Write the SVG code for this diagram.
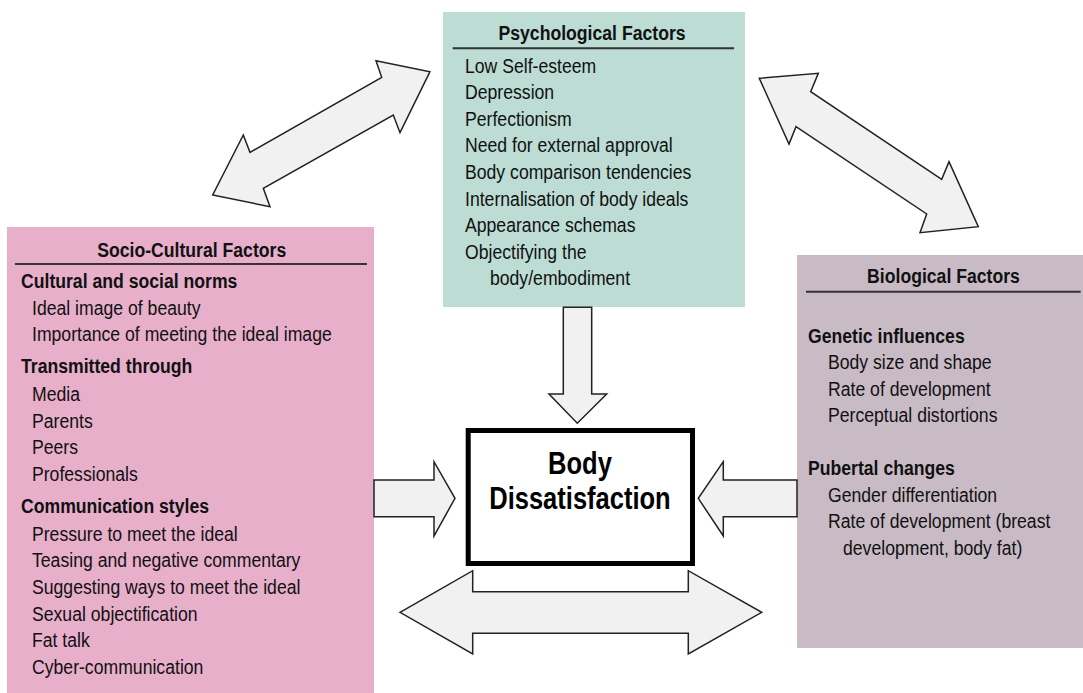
<svg xmlns="http://www.w3.org/2000/svg" width="1083" height="693" viewBox="0 0 1083 693">
<style>
.t{font-family:"Liberation Sans",Arial,Helvetica,sans-serif;font-size:21px;fill:#111}
.b{font-weight:bold}
.c{text-anchor:middle}
.rule{stroke:#333;stroke-width:2}
.arr{fill:#f1f1f1;stroke:#222;stroke-width:1.5;stroke-linejoin:miter}
</style>
<rect width="1083" height="693" fill="#fff"/>

<g id="psychological">
<rect x="443" y="12" width="302" height="295" fill="#bcdcd4"/>
<line class="rule" x1="452.7" y1="48.3" x2="734" y2="48.3"/>
<g transform="scale(0.84,1)">
<text class="t b c" x="704.8" y="40">Psychological Factors</text>
<text class="t" x="553.6" y="72.7">Low Self-esteem</text>
<text class="t" x="553.6" y="99.3">Depression</text>
<text class="t" x="553.6" y="125.9">Perfectionism</text>
<text class="t" x="553.6" y="152.5">Need for external approval</text>
<text class="t" x="553.6" y="179.1">Body comparison tendencies</text>
<text class="t" x="553.6" y="205.7">Internalisation of body ideals</text>
<text class="t" x="553.6" y="232.3">Appearance schemas</text>
<text class="t" x="553.6" y="258.9">Objectifying the</text>
<text class="t" x="583.3" y="285.5">body/embodiment</text>
</g>
</g>

<g id="socio-cultural">
<rect x="7" y="227" width="367" height="466" fill="#e8afcb"/>
<line class="rule" x1="15" y1="264" x2="367" y2="264"/>
<g transform="scale(0.84,1)">
<text class="t b c" x="228.2" y="257">Socio-Cultural Factors</text>
<text class="t b" x="25" y="288">Cultural and social norms</text>
<text class="t" x="38.1" y="315">Ideal image of beauty</text>
<text class="t" x="38.1" y="341">Importance of meeting the ideal image</text>
<text class="t b" x="25" y="373">Transmitted through</text>
<text class="t" x="38.1" y="401">Media</text>
<text class="t" x="38.1" y="427.7">Parents</text>
<text class="t" x="38.1" y="454.4">Peers</text>
<text class="t" x="38.1" y="481">Professionals</text>
<text class="t b" x="25" y="513">Communication styles</text>
<text class="t" x="38.1" y="540.8">Pressure to meet the ideal</text>
<text class="t" x="38.1" y="567.5">Teasing and negative commentary</text>
<text class="t" x="38.1" y="594.2">Suggesting ways to meet the ideal</text>
<text class="t" x="38.1" y="620.9">Sexual objectification</text>
<text class="t" x="38.1" y="647.5">Fat talk</text>
<text class="t" x="38.1" y="674.2">Cyber-communication</text>
</g>
</g>

<g id="biological">
<rect x="797" y="255" width="286" height="393" fill="#c9bbc5"/>
<line class="rule" x1="806" y1="291.7" x2="1080.7" y2="291.7"/>
<g transform="scale(0.84,1)">
<text class="t b c" x="1123.2" y="283.3">Biological Factors</text>
<text class="t b" x="961.9" y="342.7">Genetic influences</text>
<text class="t" x="985.7" y="369">Body size and shape</text>
<text class="t" x="985.7" y="395.7">Rate of development</text>
<text class="t" x="985.7" y="422.3">Perceptual distortions</text>
<text class="t b" x="961.9" y="475">Pubertal changes</text>
<text class="t" x="985.7" y="501.7">Gender differentiation</text>
<text class="t" x="985.7" y="528.3">Rate of development (breast</text>
<text class="t" x="1003.6" y="554.8">development, body fat)</text>
</g>
</g>

<g id="body-dissatisfaction">
<rect x="468.2" y="430.5" width="224.3" height="133" fill="#fff" stroke="#000" stroke-width="5"/>
<g transform="scale(0.81,1)">
<text class="t b c" x="716" y="474.3" style="font-size:31.5px;fill:#000">Body</text>
<text class="t b c" x="716" y="509.3" style="font-size:31.5px;fill:#000">Dissatisfaction</text>
</g>
</g>

<g id="connectors">
<polygon class="arr" points="430,71.7 400,132.7 393.3,115 263.3,188.3 270,206.7 212.7,195 243.3,135 250,152.3 381.7,77.3 376,60.7"/>
<polygon class="arr" points="759.3,78.3 818.3,73.3 810.7,91.7 941.7,179.3 949,161.7 978.3,226.7 920,232.7 926.7,214 796,126.7 789,144"/>
<polygon class="arr" points="563.3,307.3 591.7,307.3 591.7,394 606.7,394 577.3,423.3 549,394 563.3,394"/>
<polygon class="arr" points="374,480 434,480 434,461.7 455,498.3 434,536 434,516.7 374,516.7"/>
<polygon class="arr" points="797,480 723.3,480 723.3,461.7 698.3,498.3 723.3,536 723.3,516.7 797,516.7"/>
<polygon class="arr" points="400,612.3 472.7,570.7 472.7,591.7 688.3,591.7 688.3,570.7 761.7,612.3 688.3,654 688.3,633.3 472.7,633.3 472.7,654"/>
</g>
</svg>
